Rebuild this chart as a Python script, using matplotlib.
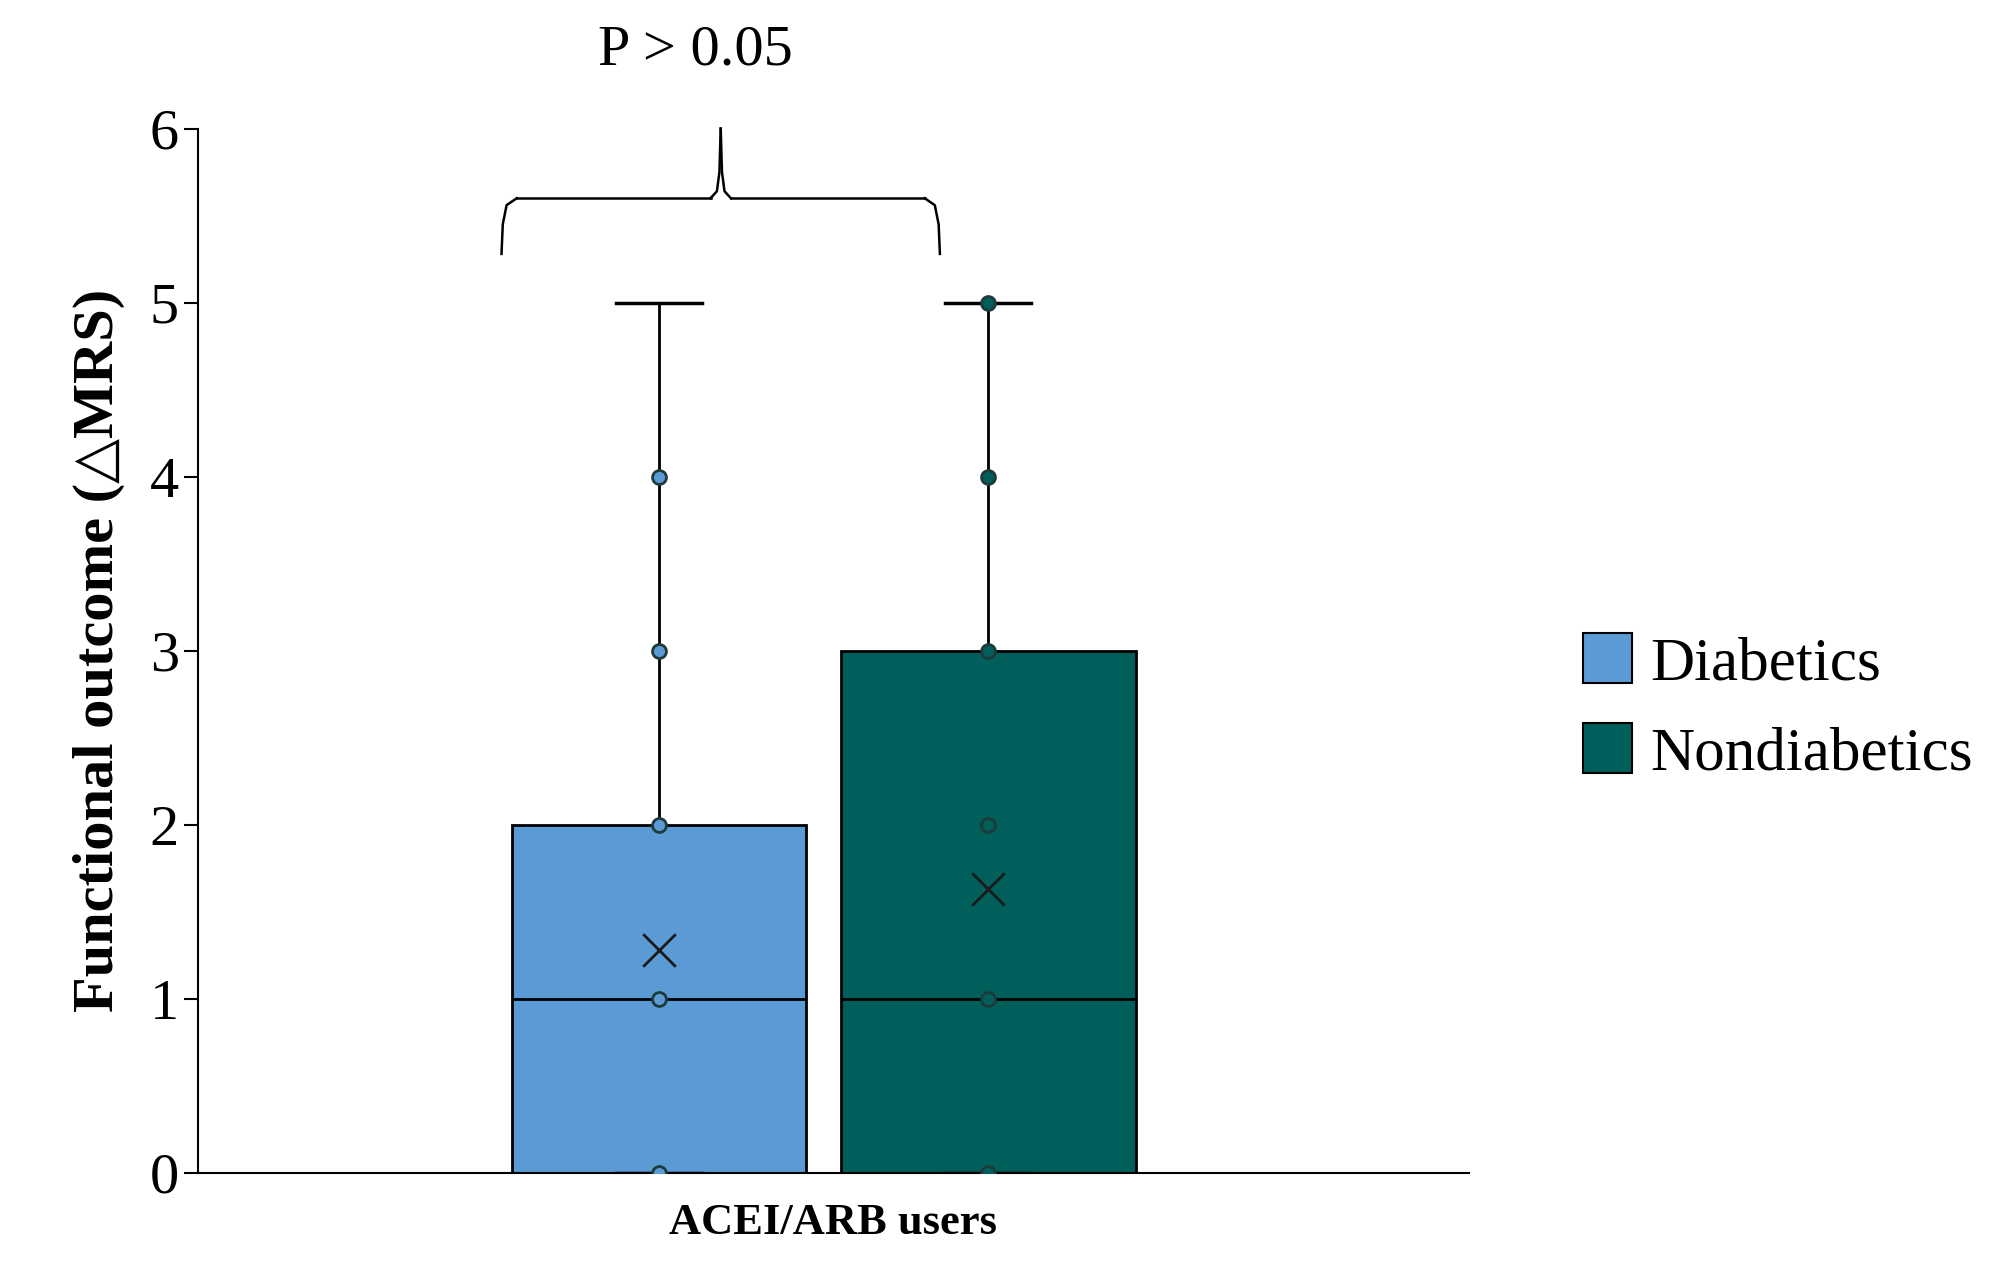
import matplotlib
matplotlib.use('Agg')
import matplotlib.pyplot as plt
from matplotlib.patches import Patch

plt.rcParams['font.family'] = ['Liberation Serif', 'DejaVu Serif']

groups = ['Diabetics', 'Nondiabetics']
colors = ['#5B9BD5', '#005F5A']
q1 = [0, 0]
q3 = [2, 3]
med = [1, 1]
means = [1.28, 1.63]
whislo = [0, 0]
whishi = [5, 5]
points = [[0, 1, 2, 3, 4], [0, 1, 2, 3, 4, 5]]
positions = [0.363, 0.622]

fig = plt.figure(figsize=(19.98, 12.86), dpi=100)
ax = fig.add_axes([0.099, 0.088, 0.636, 0.812])

stats = [dict(q1=q1[i], q3=q3[i], med=med[i], whislo=whislo[i], whishi=whishi[i],
              mean=means[i], fliers=[], label=groups[i]) for i in range(2)]
bp = ax.bxp(stats, positions=positions, widths=0.232, patch_artist=True,
            showmeans=False, manage_ticks=False,
            boxprops=dict(edgecolor='black', linewidth=2),
            medianprops=dict(color='black', linewidth=2),
            whiskerprops=dict(color='black', linewidth=2),
            capprops=dict(color='black', linewidth=2.5), capwidths=0.068)
for patch, c in zip(bp['boxes'], colors):
    patch.set_facecolor(c)
for i in range(2):
    ax.scatter([positions[i]] * len(points[i]), points[i], s=100, facecolor=colors[i],
               edgecolor='#1f3a3a', linewidth=2, zorder=5)
    ax.scatter(positions[i], means[i], marker='x', s=550, color='#1a1a1a', linewidth=2, zorder=5)

# brace
x0, x1 = 0.239, 0.584
xm = (x0 + x1) / 2
kw = dict(color='black', linewidth=1.8, clip_on=False)
ax.plot([x0, x0 + 0.001, x0 + 0.004, x0 + 0.012], [5.28, 5.45, 5.56, 5.6], **kw)
ax.plot([x0 + 0.012, xm - 0.008], [5.6, 5.6], **kw)
ax.plot([xm - 0.008, xm - 0.003, xm - 0.001, xm], [5.6, 5.64, 5.75, 6.0], **kw)
ax.plot([xm, xm + 0.001, xm + 0.003, xm + 0.008], [6.0, 5.75, 5.64, 5.6], **kw)
ax.plot([xm + 0.008, x1 - 0.012], [5.6, 5.6], **kw)
ax.plot([x1 - 0.012, x1 - 0.004, x1 - 0.001, x1], [5.6, 5.56, 5.45, 5.28], **kw)
ax.text(xm - 0.02, 6.45, 'P > 0.05', ha='center', va='center', fontsize=42, clip_on=False)

ax.set_xlim(0, 1)
ax.set_ylim(0, 6)
ax.set_yticks(range(7))
ax.tick_params(axis='y', labelsize=42, length=10, width=1.5)
ax.set_xticks([0.5])
ax.set_xticklabels(['ACEI/ARB users'], fontsize=32, fontweight='bold')
ax.tick_params(axis='x', length=0, pad=22)
ax.set_ylabel('Functional outcome (\u25b3MRS)', fontsize=42, fontweight='bold', labelpad=18)
for s in ['top', 'right']:
    ax.spines[s].set_visible(False)
ax.spines['left'].set_linewidth(1.5)
ax.spines['bottom'].set_linewidth(1.5)

handles = [Patch(facecolor=c, edgecolor='black', linewidth=1.5) for c in colors]
fig.legend(handles, groups, loc='center left', bbox_to_anchor=(0.765, 0.45), frameon=False,
           fontsize=44, handlelength=0.8, handleheight=0.9, handletextpad=0.3, labelspacing=0.5)

fig.savefig('out.png', dpi=100)
